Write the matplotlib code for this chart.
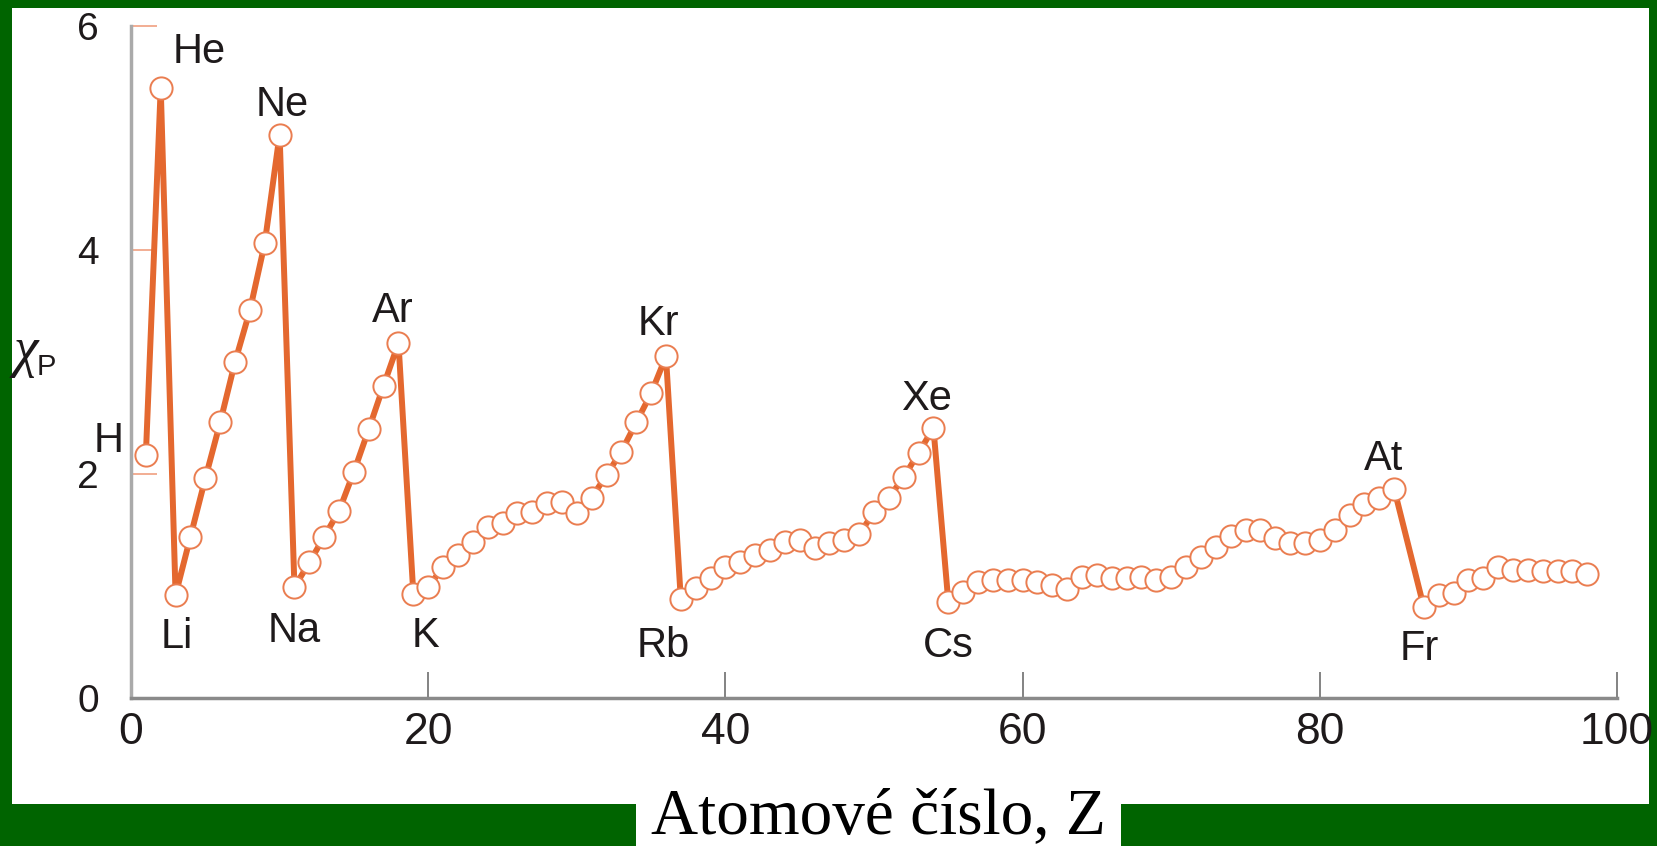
import matplotlib
matplotlib.use("Agg")
from matplotlib import pyplot as plt
from matplotlib.patches import Rectangle

plt.rcParams['font.family'] = ['Liberation Sans', 'DejaVu Sans']

# atomic number (Rn omitted) and electronegativity
z = list(range(1, 86)) + list(range(87, 99))
chi = [2.17, 5.45, 0.92, 1.44, 1.96, 2.46, 3.00, 3.46, 4.06, 5.03,
       0.99, 1.21, 1.44, 1.67, 2.02, 2.40, 2.79, 3.17,
       0.93, 0.99, 1.17, 1.28, 1.39, 1.53, 1.56, 1.65, 1.66, 1.74,
       1.75, 1.65, 1.79, 1.99, 2.20, 2.46, 2.72, 3.05,
       0.88, 0.98, 1.07, 1.17, 1.21, 1.28, 1.32, 1.39, 1.41, 1.34,
       1.38, 1.41, 1.46, 1.66, 1.79, 1.97, 2.19, 2.41,
       0.86, 0.95, 1.04, 1.05, 1.05, 1.05, 1.04, 1.01, 0.97, 1.08,
       1.10, 1.07, 1.07, 1.08, 1.05, 1.08, 1.17, 1.26, 1.35, 1.45,
       1.50, 1.50, 1.43, 1.38, 1.38, 1.41, 1.50, 1.63, 1.73, 1.79, 1.87,
       0.81, 0.92, 0.94, 1.05, 1.07, 1.17, 1.14, 1.14, 1.13, 1.13,
       1.13, 1.11]

# element labels: symbol, Z position, chi baseline
labels = ['H', 'He', 'Li', 'Ne', 'Na', 'Ar', 'K', 'Kr', 'Rb', 'Xe', 'Cs', 'At', 'Fr']
label_z = [-1.5, 4.6, 3.1, 10.2, 11.0, 17.6, 19.8, 35.5, 35.8, 53.5, 55.0, 84.3, 86.7]
label_chi = [2.20, 5.67, 0.45, 5.20, 0.50, 3.36, 0.455, 3.24, 0.37, 2.57, 0.37, 2.04, 0.34]

xticks = [0, 20, 40, 60, 80, 100]
yticks = [0, 2, 4, 6]

W, H = 1657, 846
GREEN = '#006400'
ORANGE = '#e4682f'
TXT = '#1e1a1b'

fig = plt.figure(figsize=(W / 100, H / 100), dpi=100)
fig.patch.set_facecolor(GREEN)
fig.add_artist(Rectangle((12 / W, 1 - 804 / H), (1649 - 12) / W, (804 - 8) / H,
                         transform=fig.transFigure, fc='white', ec='none', zorder=-5))
fig.add_artist(Rectangle((636 / W, 0), (1121 - 636) / W, 1 - 790 / H,
                         transform=fig.transFigure, fc='white', ec='none', zorder=-5))

ax = fig.add_axes([131 / W, 148 / H, (1617 - 131) / W, (698 - 26) / H])
ax.set_facecolor('none')
ax.plot(z, chi, color=ORANGE, lw=4.3, marker='o', ms=16, mfc='white',
        mec='#ea7d50', mew=1.4, clip_on=False, zorder=3)

for s, zx, cy in zip(labels, label_z, label_chi):
    ax.text(zx, cy, s, ha='center', va='baseline', fontsize=30, color=TXT)

ax.set_xlim(0, 100)
ax.set_ylim(0, 6)
ax.set_xticks(xticks)
ax.set_yticks(yticks)
for side in ['top', 'right']:
    ax.spines[side].set_visible(False)
ax.spines['left'].set_color('#aaaaaa')
ax.spines['left'].set_linewidth(2.5)
ax.spines['bottom'].set_color('#8a8a8a')
ax.spines['bottom'].set_linewidth(2.5)
ax.tick_params(axis='y', direction='in', length=19, width=1.2, color='#f0a080',
               pad=23, labelsize=28, labelcolor=TXT)
ax.tick_params(axis='x', direction='in', length=19, width=1.2, color='#6e6e6e',
               pad=10, labelsize=32, labelcolor=TXT)

# y label: chi with sans subscript P
fig.text(13 / W, 1 - 366 / H, 'χ', family=['Liberation Serif', 'DejaVu Serif'],
         style='italic', fontsize=40, color=TXT, va='baseline')
fig.text(37 / W, 1 - 375 / H, 'P', fontsize=21, color=TXT, va='baseline')

fig.text(878 / W, 13 / H, 'Atomové číslo, Z', family=['Liberation Serif', 'DejaVu Serif'],
         fontsize=47, color='black', ha='center', va='baseline')

fig.savefig('out.png', dpi=100, facecolor=fig.get_facecolor())
